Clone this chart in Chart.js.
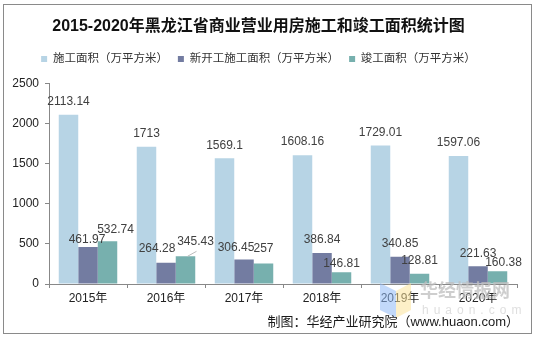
<!DOCTYPE html>
<html>
<head>
<meta charset="utf-8">
<script src="https://cdn.jsdelivr.net/npm/chart.js@4.4.1/dist/chart.umd.min.js"></script>
<style>
  html, body { margin: 0; padding: 0; background: #fff; }
  #wrap { position: relative; width: 534px; height: 337px; }
  #frame { position: absolute; left: 3px; top: 4px; width: 527px; height: 328px;
           border: 1px solid #8a8a8a; pointer-events: none; }
</style>
</head>
<body>
<div id="wrap">
  <canvas id="c" width="534" height="337"></canvas>
  <div id="frame"></div>
</div>
<script>
var years = ['2015年', '2016年', '2017年', '2018年', '2019年', '2020年'];
var shigong = [2113.14, 1713, 1569.1, 1608.16, 1729.01, 1597.06];
var xinkai = [461.97, 264.28, 306.45, 386.84, 340.85, 221.63];
var jungong = [532.74, 345.43, 257, 146.81, 128.81, 160.38];
var seriesNames = ['施工面积（万平方米）', '新开工施工面积（万平方米）', '竣工面积（万平方米）'];
var yTicks = [0, 500, 1000, 1500, 2000, 2500];

var FONT = "'Liberation Sans', 'Noto Sans CJK SC', sans-serif";

// label nudges (px) where the original labels were dragged by hand
var nudge = {
    '0-1': [-1, -7],
    '0-2': [8, -12],
    '1-1': [-9, -14],
    '1-2': [10, -15, true],
    '2-1': [-8, -12],
    '2-2': [0, -15],
    '3-2': [0, -9],
    '5-2': [6, -8]
};

var labelPlugin = {
    id: 'valLabels',
    afterDatasetsDraw: function(chart) {
        var ctx = chart.ctx;
        ctx.save();
        ctx.font = '12px ' + FONT;
        ctx.fillStyle = '#404040';
        ctx.textAlign = 'center';
        ctx.textBaseline = 'middle';
        chart.data.datasets.forEach(function(ds, di) {
            var meta = chart.getDatasetMeta(di);
            meta.data.forEach(function(bar, i) {
                var n = nudge[i + '-' + di] || [0, -13];
                ctx.fillText(String(ds.data[i]), bar.x + n[0], bar.y + n[1]);
                if (n[2]) {
                    ctx.strokeStyle = '#bbb';
                    ctx.lineWidth = 1;
                    ctx.beginPath();
                    ctx.moveTo(bar.x + 2, bar.y);
                    ctx.lineTo(bar.x + 11, bar.y - 5);
                    ctx.stroke();
                }
            });
        });
        ctx.restore();
    }
};

var footPlugin = {
    id: 'foot',
    afterDraw: function(chart) {
        var ctx = chart.ctx;
        ctx.save();
        // watermark
        ctx.globalAlpha = 0.55;
        ctx.fillStyle = '#8fbaf5';
        ctx.beginPath();
        ctx.moveTo(380, 283); ctx.lineTo(396, 291); ctx.lineTo(396, 318); ctx.lineTo(380, 310);
        ctx.closePath(); ctx.fill();
        ctx.fillStyle = '#fbe39a';
        ctx.beginPath();
        ctx.moveTo(396, 291); ctx.lineTo(411, 283); ctx.lineTo(411, 310); ctx.lineTo(396, 318);
        ctx.closePath(); ctx.fill();
        ctx.globalAlpha = 1;
        ctx.fillStyle = 'rgba(190,190,190,0.75)';
        ctx.font = 'bold 18px ' + FONT;
        ctx.textAlign = 'left';
        ctx.textBaseline = 'middle';
        ctx.fillText('华经情报网', 420, 292);
        ctx.fillStyle = 'rgba(215,215,215,0.8)';
        ctx.font = '12px ' + FONT;
        ctx.letterSpacing = '5px';
        ctx.fillText('huaon.com', 422, 311);
        ctx.letterSpacing = '0px';
        // source
        ctx.fillStyle = '#1a1a1a';
        ctx.font = '13px ' + FONT;
        ctx.textAlign = 'right';
        ctx.fillText('制图：华经产业研究院（www.huaon.com）', 519, 322);
        ctx.restore();
    }
};

new Chart(document.getElementById('c'), {
    type: 'bar',
    data: {
        labels: years,
        datasets: [
            { label: seriesNames[0], data: shigong, backgroundColor: '#b7d4e5' },
            { label: seriesNames[1], data: xinkai, backgroundColor: '#737ca1' },
            { label: seriesNames[2], data: jungong, backgroundColor: '#77b0ae' }
        ]
    },
    options: {
        responsive: false,
        animation: false,
        layout: { padding: { left: 0, right: 17, top: 0, bottom: 0 } },
        datasets: { bar: { categoryPercentage: 0.75, barPercentage: 1, borderWidth: 0 } },
        plugins: {
            title: {
                display: true,
                text: '2015-2020年黑龙江省商业营业用房施工和竣工面积统计图',
                color: '#111',
                font: { family: FONT, size: 16, weight: 'bold' },
                padding: { top: 17, bottom: 7 }
            },
            // empty subtitle used only as a gap between legend and plot
            subtitle: {
                display: true,
                text: '',
                weight: 500,
                font: { size: 9, lineHeight: 1 },
                padding: 0
            },
            legend: {
                position: 'top',
                labels: {
                    color: '#333',
                    font: { family: FONT, size: 11.5 },
                    boxWidth: 6, boxHeight: 6,
                    padding: 10
                }
            },
            tooltip: { enabled: false }
        },
        scales: {
            x: {
                afterFit: function(s) { s.height = 53; },
                grid: { display: true, drawOnChartArea: false, drawTicks: true, tickLength: 4, color: '#888' },
                border: { display: true, color: '#888' },
                ticks: { color: '#222', font: { family: FONT, size: 12 }, padding: 3 }
            },
            y: {
                min: 0, max: 2500,
                afterFit: function(s) { s.width = 49; },
                afterBuildTicks: function(s) { s.ticks = yTicks.map(function(v) { return { value: v }; }); },
                grid: { display: true, drawOnChartArea: false, drawTicks: true, tickLength: 4, color: '#888' },
                border: { display: true, color: '#888' },
                ticks: {
                    color: '#222', font: { family: FONT, size: 12 }, padding: 6,
                    callback: function(v) { return String(v); }
                }
            }
        }
    },
    plugins: [labelPlugin, footPlugin]
});
</script>
</body>
</html>
